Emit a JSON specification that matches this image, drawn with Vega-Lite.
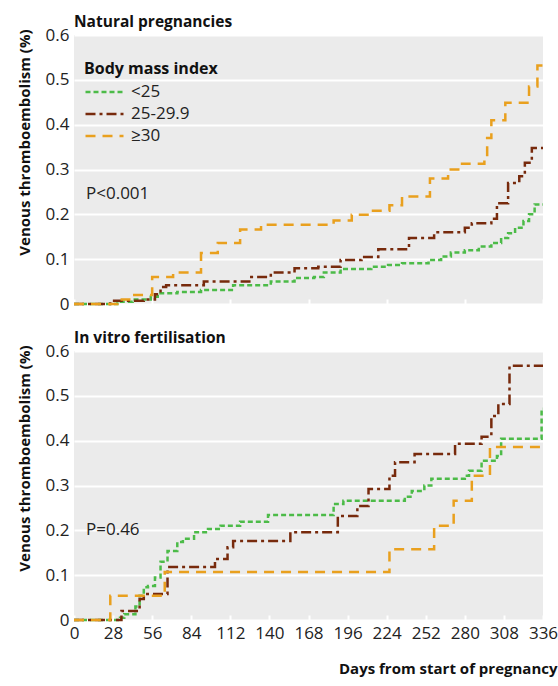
{
  "$schema": "https://vega.github.io/schema/vega-lite/v6.json",
  "padding": {"left": 17, "top": 14, "right": 2, "bottom": 2},
  "config": {
    "font": "Open Sans",
    "view": {"fill": "#ebebeb", "stroke": null},
    "axis": {"labelFont": "Open Sans", "labelFontSize": 17, "labelColor": "#222222", "titleFont": "Open Sans", "titleFontSize": 15, "titleFontWeight": "bold", "titleColor": "#111111", "domain": false, "gridColor": "#ffffff", "gridWidth": 2},
    "title": {"anchor": "start", "frame": "group", "font": "Open Sans", "fontSize": 15.5, "fontWeight": "bold", "color": "#111111", "offset": -4},
    "concat": {"spacing": 18}
  },
  "datasets": {
    "curves": [
      {"panel": "nat", "bmi": "<25", "day": 0, "vte": 0},
      {"panel": "nat", "bmi": "<25", "day": 31, "vte": 0.005},
      {"panel": "nat", "bmi": "<25", "day": 42, "vte": 0.01},
      {"panel": "nat", "bmi": "<25", "day": 55, "vte": 0.016},
      {"panel": "nat", "bmi": "<25", "day": 60, "vte": 0.024},
      {"panel": "nat", "bmi": "<25", "day": 74, "vte": 0.027},
      {"panel": "nat", "bmi": "<25", "day": 91, "vte": 0.031},
      {"panel": "nat", "bmi": "<25", "day": 114, "vte": 0.042},
      {"panel": "nat", "bmi": "<25", "day": 141, "vte": 0.05},
      {"panel": "nat", "bmi": "<25", "day": 158, "vte": 0.058},
      {"panel": "nat", "bmi": "<25", "day": 172, "vte": 0.06},
      {"panel": "nat", "bmi": "<25", "day": 179, "vte": 0.07},
      {"panel": "nat", "bmi": "<25", "day": 191, "vte": 0.078},
      {"panel": "nat", "bmi": "<25", "day": 213, "vte": 0.083},
      {"panel": "nat", "bmi": "<25", "day": 225, "vte": 0.087},
      {"panel": "nat", "bmi": "<25", "day": 235, "vte": 0.091},
      {"panel": "nat", "bmi": "<25", "day": 254, "vte": 0.098},
      {"panel": "nat", "bmi": "<25", "day": 263, "vte": 0.106},
      {"panel": "nat", "bmi": "<25", "day": 270, "vte": 0.115},
      {"panel": "nat", "bmi": "<25", "day": 280, "vte": 0.12},
      {"panel": "nat", "bmi": "<25", "day": 290, "vte": 0.128},
      {"panel": "nat", "bmi": "<25", "day": 299, "vte": 0.136},
      {"panel": "nat", "bmi": "<25", "day": 306, "vte": 0.147},
      {"panel": "nat", "bmi": "<25", "day": 311, "vte": 0.158},
      {"panel": "nat", "bmi": "<25", "day": 316, "vte": 0.17},
      {"panel": "nat", "bmi": "<25", "day": 322, "vte": 0.185},
      {"panel": "nat", "bmi": "<25", "day": 326, "vte": 0.2},
      {"panel": "nat", "bmi": "<25", "day": 330, "vte": 0.222},
      {"panel": "nat", "bmi": "<25", "day": 336, "vte": 0.222},
      {"panel": "nat", "bmi": "25-29.9", "day": 0, "vte": 0},
      {"panel": "nat", "bmi": "25-29.9", "day": 26, "vte": 0.007},
      {"panel": "nat", "bmi": "25-29.9", "day": 50, "vte": 0.01},
      {"panel": "nat", "bmi": "25-29.9", "day": 58, "vte": 0.022},
      {"panel": "nat", "bmi": "25-29.9", "day": 62, "vte": 0.038},
      {"panel": "nat", "bmi": "25-29.9", "day": 66, "vte": 0.042},
      {"panel": "nat", "bmi": "25-29.9", "day": 93, "vte": 0.05},
      {"panel": "nat", "bmi": "25-29.9", "day": 127, "vte": 0.06},
      {"panel": "nat", "bmi": "25-29.9", "day": 141, "vte": 0.07},
      {"panel": "nat", "bmi": "25-29.9", "day": 158, "vte": 0.08},
      {"panel": "nat", "bmi": "25-29.9", "day": 175, "vte": 0.083},
      {"panel": "nat", "bmi": "25-29.9", "day": 191, "vte": 0.098},
      {"panel": "nat", "bmi": "25-29.9", "day": 206, "vte": 0.105},
      {"panel": "nat", "bmi": "25-29.9", "day": 218, "vte": 0.122},
      {"panel": "nat", "bmi": "25-29.9", "day": 240, "vte": 0.147},
      {"panel": "nat", "bmi": "25-29.9", "day": 258, "vte": 0.16},
      {"panel": "nat", "bmi": "25-29.9", "day": 280, "vte": 0.17},
      {"panel": "nat", "bmi": "25-29.9", "day": 285, "vte": 0.18},
      {"panel": "nat", "bmi": "25-29.9", "day": 299, "vte": 0.19},
      {"panel": "nat", "bmi": "25-29.9", "day": 303, "vte": 0.225},
      {"panel": "nat", "bmi": "25-29.9", "day": 311, "vte": 0.27},
      {"panel": "nat", "bmi": "25-29.9", "day": 319, "vte": 0.285},
      {"panel": "nat", "bmi": "25-29.9", "day": 323, "vte": 0.315},
      {"panel": "nat", "bmi": "25-29.9", "day": 328, "vte": 0.348},
      {"panel": "nat", "bmi": "25-29.9", "day": 336, "vte": 0.348},
      {"panel": "nat", "bmi": "≥30", "day": 0, "vte": 0},
      {"panel": "nat", "bmi": "≥30", "day": 31, "vte": 0.01},
      {"panel": "nat", "bmi": "≥30", "day": 42, "vte": 0.02},
      {"panel": "nat", "bmi": "≥30", "day": 56, "vte": 0.06},
      {"panel": "nat", "bmi": "≥30", "day": 71, "vte": 0.07},
      {"panel": "nat", "bmi": "≥30", "day": 91, "vte": 0.114},
      {"panel": "nat", "bmi": "≥30", "day": 103, "vte": 0.136},
      {"panel": "nat", "bmi": "≥30", "day": 119, "vte": 0.166},
      {"panel": "nat", "bmi": "≥30", "day": 134, "vte": 0.177},
      {"panel": "nat", "bmi": "≥30", "day": 186, "vte": 0.186},
      {"panel": "nat", "bmi": "≥30", "day": 199, "vte": 0.199},
      {"panel": "nat", "bmi": "≥30", "day": 212, "vte": 0.208},
      {"panel": "nat", "bmi": "≥30", "day": 226, "vte": 0.22},
      {"panel": "nat", "bmi": "≥30", "day": 235, "vte": 0.24},
      {"panel": "nat", "bmi": "≥30", "day": 255, "vte": 0.28},
      {"panel": "nat", "bmi": "≥30", "day": 268, "vte": 0.3},
      {"panel": "nat", "bmi": "≥30", "day": 278, "vte": 0.313},
      {"panel": "nat", "bmi": "≥30", "day": 294, "vte": 0.327},
      {"panel": "nat", "bmi": "≥30", "day": 296, "vte": 0.37},
      {"panel": "nat", "bmi": "≥30", "day": 299, "vte": 0.41},
      {"panel": "nat", "bmi": "≥30", "day": 309, "vte": 0.449},
      {"panel": "nat", "bmi": "≥30", "day": 326, "vte": 0.485},
      {"panel": "nat", "bmi": "≥30", "day": 332, "vte": 0.532},
      {"panel": "nat", "bmi": "≥30", "day": 336, "vte": 0.532},
      {"panel": "ivf", "bmi": "<25", "day": 0, "vte": 0},
      {"panel": "ivf", "bmi": "<25", "day": 33, "vte": 0.005},
      {"panel": "ivf", "bmi": "<25", "day": 36, "vte": 0.013},
      {"panel": "ivf", "bmi": "<25", "day": 44, "vte": 0.03},
      {"panel": "ivf", "bmi": "<25", "day": 47, "vte": 0.054},
      {"panel": "ivf", "bmi": "<25", "day": 50, "vte": 0.073},
      {"panel": "ivf", "bmi": "<25", "day": 53, "vte": 0.076},
      {"panel": "ivf", "bmi": "<25", "day": 58, "vte": 0.095},
      {"panel": "ivf", "bmi": "<25", "day": 62, "vte": 0.13},
      {"panel": "ivf", "bmi": "<25", "day": 67, "vte": 0.154},
      {"panel": "ivf", "bmi": "<25", "day": 74, "vte": 0.174},
      {"panel": "ivf", "bmi": "<25", "day": 78, "vte": 0.181},
      {"panel": "ivf", "bmi": "<25", "day": 86, "vte": 0.196},
      {"panel": "ivf", "bmi": "<25", "day": 96, "vte": 0.203},
      {"panel": "ivf", "bmi": "<25", "day": 105, "vte": 0.21},
      {"panel": "ivf", "bmi": "<25", "day": 119, "vte": 0.219},
      {"panel": "ivf", "bmi": "<25", "day": 139, "vte": 0.234},
      {"panel": "ivf", "bmi": "<25", "day": 186, "vte": 0.259},
      {"panel": "ivf", "bmi": "<25", "day": 193, "vte": 0.266},
      {"panel": "ivf", "bmi": "<25", "day": 237, "vte": 0.275},
      {"panel": "ivf", "bmi": "<25", "day": 242, "vte": 0.288},
      {"panel": "ivf", "bmi": "<25", "day": 251, "vte": 0.3},
      {"panel": "ivf", "bmi": "<25", "day": 256, "vte": 0.315},
      {"panel": "ivf", "bmi": "<25", "day": 280, "vte": 0.322},
      {"panel": "ivf", "bmi": "<25", "day": 283, "vte": 0.333},
      {"panel": "ivf", "bmi": "<25", "day": 292, "vte": 0.355},
      {"panel": "ivf", "bmi": "<25", "day": 303, "vte": 0.366},
      {"panel": "ivf", "bmi": "<25", "day": 306, "vte": 0.404},
      {"panel": "ivf", "bmi": "<25", "day": 335, "vte": 0.471},
      {"panel": "ivf", "bmi": "<25", "day": 336, "vte": 0.471},
      {"panel": "ivf", "bmi": "25-29.9", "day": 0, "vte": 0},
      {"panel": "ivf", "bmi": "25-29.9", "day": 34, "vte": 0.02},
      {"panel": "ivf", "bmi": "25-29.9", "day": 47, "vte": 0.047},
      {"panel": "ivf", "bmi": "25-29.9", "day": 50, "vte": 0.058},
      {"panel": "ivf", "bmi": "25-29.9", "day": 67, "vte": 0.118},
      {"panel": "ivf", "bmi": "25-29.9", "day": 101, "vte": 0.136},
      {"panel": "ivf", "bmi": "25-29.9", "day": 110, "vte": 0.162},
      {"panel": "ivf", "bmi": "25-29.9", "day": 114, "vte": 0.176},
      {"panel": "ivf", "bmi": "25-29.9", "day": 155, "vte": 0.196},
      {"panel": "ivf", "bmi": "25-29.9", "day": 189, "vte": 0.232},
      {"panel": "ivf", "bmi": "25-29.9", "day": 203, "vte": 0.254},
      {"panel": "ivf", "bmi": "25-29.9", "day": 211, "vte": 0.292},
      {"panel": "ivf", "bmi": "25-29.9", "day": 226, "vte": 0.322},
      {"panel": "ivf", "bmi": "25-29.9", "day": 230, "vte": 0.352},
      {"panel": "ivf", "bmi": "25-29.9", "day": 244, "vte": 0.37},
      {"panel": "ivf", "bmi": "25-29.9", "day": 273, "vte": 0.393},
      {"panel": "ivf", "bmi": "25-29.9", "day": 292, "vte": 0.409},
      {"panel": "ivf", "bmi": "25-29.9", "day": 299, "vte": 0.455},
      {"panel": "ivf", "bmi": "25-29.9", "day": 304, "vte": 0.482},
      {"panel": "ivf", "bmi": "25-29.9", "day": 312, "vte": 0.567},
      {"panel": "ivf", "bmi": "25-29.9", "day": 336, "vte": 0.567},
      {"panel": "ivf", "bmi": "≥30", "day": 0, "vte": 0},
      {"panel": "ivf", "bmi": "≥30", "day": 26, "vte": 0.054},
      {"panel": "ivf", "bmi": "≥30", "day": 65, "vte": 0.107},
      {"panel": "ivf", "bmi": "≥30", "day": 226, "vte": 0.158},
      {"panel": "ivf", "bmi": "≥30", "day": 258, "vte": 0.21},
      {"panel": "ivf", "bmi": "≥30", "day": 272, "vte": 0.266},
      {"panel": "ivf", "bmi": "≥30", "day": 285, "vte": 0.322},
      {"panel": "ivf", "bmi": "≥30", "day": 298, "vte": 0.386},
      {"panel": "ivf", "bmi": "≥30", "day": 336, "vte": 0.386}
    ]
  },
  "vconcat": [
    {
      "title": "Natural pregnancies",
      "width": 469,
      "height": 269,
      "layer": [
        {
          "data": {"name": "curves"},
          "transform": [{"filter": "datum.panel == 'nat'"}],
          "mark": {"type": "line", "interpolate": "step-after", "strokeWidth": 2.5},
          "encoding": {
            "x": {"field": "day", "type": "quantitative", "scale": {"domain": [0, 336], "nice": false},
                  "axis": {"values": [0, 28, 56, 84, 112, 140, 168, 196, 224, 252, 280, 308, 336], "labels": false, "title": null, "grid": false, "ticks": true, "tickSize": -5, "tickColor": "#ffffff", "tickWidth": 2}},
            "y": {"field": "vte", "type": "quantitative", "scale": {"domain": [0, 0.6], "nice": false},
                  "axis": {"values": [0, 0.1, 0.2, 0.3, 0.4, 0.5, 0.6], "title": "Venous thromboembolism (%)", "titleAnchor": "end", "titleAlign": "right", "titleY": -6, "ticks": false, "labelPadding": 5, "titlePadding": 13, "labelExpr": "datum.value == 0 ? '0' : format(datum.value, '.1f')"}},
            "color": {"field": "bmi", "type": "nominal", "sort": ["<25", "25-29.9", "≥30"],
                      "scale": {"domain": ["<25", "25-29.9", "≥30"], "range": ["#4cbb48", "#772a0c", "#e9a01e"]},
                      "legend": {"title": "Body mass index", "orient": "none", "legendX": 10, "legendY": 26, "padding": 0, "titleFont": "Open Sans", "titleFontSize": 16, "titleFontWeight": "bold", "titleColor": "#111111", "labelFont": "Open Sans", "labelFontSize": 17, "labelColor": "#222222", "symbolType": "stroke", "symbolSize": 1444, "symbolStrokeWidth": 2.5, "clipHeight": 22, "rowPadding": 0, "titlePadding": 4, "labelOffset": 6}},
            "strokeDash": {"field": "bmi", "type": "nominal", "sort": ["<25", "25-29.9", "≥30"],
                           "scale": {"domain": ["<25", "25-29.9", "≥30"], "range": [[5, 3], [10, 4, 3, 4], [10, 7]]},
                           "legend": {"title": "Body mass index", "orient": "none", "legendX": 10, "legendY": 26, "padding": 0, "titleFont": "Open Sans", "titleFontSize": 16, "titleFontWeight": "bold", "titleColor": "#111111", "labelFont": "Open Sans", "labelFontSize": 17, "labelColor": "#222222", "symbolType": "stroke", "symbolSize": 1444, "symbolStrokeWidth": 2.5, "clipHeight": 22, "rowPadding": 0, "titlePadding": 4, "labelOffset": 6}}
          }
        },
        {
          "data": {"values": [{"label": "P<0.001"}]},
          "mark": {"type": "text", "align": "left", "baseline": "middle", "font": "Open Sans", "fontSize": 17, "color": "#222222"},
          "encoding": {"x": {"datum": 8.6}, "y": {"datum": 0.246}, "text": {"field": "label"}}
        }
      ]
    },
    {
      "title": "In vitro fertilisation",
      "width": 469,
      "height": 269,
      "resolve": {"scale": {"x": "shared"}, "axis": {"x": "independent"}},
      "layer": [
        {
          "data": {"name": "curves"},
          "transform": [{"filter": "datum.panel == 'ivf'"}],
          "mark": {"type": "line", "interpolate": "step-after", "strokeWidth": 2.5},
          "encoding": {
            "x": {"field": "day", "type": "quantitative", "scale": {"domain": [0, 336], "nice": false},
                  "axis": {"orient": "bottom", "values": [0, 56, 112, 168, 224, 280, 336], "labelOverlap": false, "labelFlush": false, "title": "Days from start of pregnancy", "grid": false, "ticks": true, "tickSize": -5, "tickColor": "#ffffff", "tickWidth": 2, "labelPadding": 10, "titleAnchor": "end", "titleAlign": "right", "titleX": 483, "titleY": 53, "titleBaseline": "alphabetic"}},
            "y": {"field": "vte", "type": "quantitative", "scale": {"domain": [0, 0.6], "nice": false},
                  "axis": {"values": [0, 0.1, 0.2, 0.3, 0.4, 0.5, 0.6], "title": "Venous thromboembolism (%)", "titleAnchor": "end", "titleAlign": "right", "titleY": -6, "ticks": false, "labelPadding": 5, "titlePadding": 13, "labelExpr": "datum.value == 0 ? '0' : format(datum.value, '.1f')"}},
            "color": {"field": "bmi", "type": "nominal", "sort": ["<25", "25-29.9", "≥30"],
                      "scale": {"domain": ["<25", "25-29.9", "≥30"], "range": ["#4cbb48", "#772a0c", "#e9a01e"]}, "legend": null},
            "strokeDash": {"field": "bmi", "type": "nominal", "sort": ["<25", "25-29.9", "≥30"],
                           "scale": {"domain": ["<25", "25-29.9", "≥30"], "range": [[5, 3], [10, 4, 3, 4], [10, 7]]}, "legend": null}
          }
        },
        {
          "data": {"values": [{"label": "P=0.46"}]},
          "mark": {"type": "text", "align": "left", "baseline": "middle", "font": "Open Sans", "fontSize": 17, "color": "#222222"},
          "encoding": {
            "x": {"datum": 8.6, "type": "quantitative",
                  "axis": {"orient": "bottom", "values": [28, 84, 140, 196, 252, 308], "labelOverlap": false, "labelFlush": false, "title": null, "grid": false, "ticks": true, "tickSize": -5, "tickColor": "#ffffff", "tickWidth": 2, "labelPadding": 10}},
            "y": {"datum": 0.2},
            "text": {"field": "label"}
          }
        }
      ]
    }
  ],
  "resolve": {"legend": {"color": "independent", "strokeDash": "independent"}}
}
